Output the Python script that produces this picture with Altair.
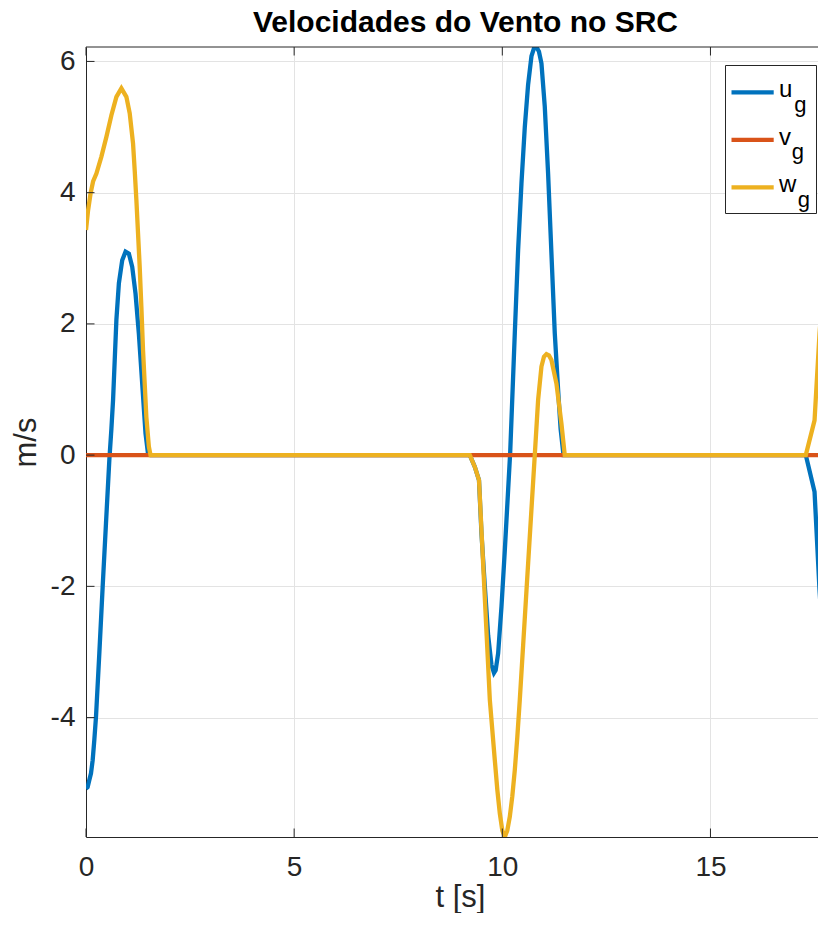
import altair as alt
import pandas as pd

# ---- data ----
t_u = [0, 0.04, 0.08, 0.12, 0.16, 0.20, 0.24, 0.32, 0.40, 0.48, 0.56, 0.61, 0.65, 0.69,
       0.73, 0.79, 0.87, 0.95, 1.03, 1.11, 1.19, 1.27, 1.35, 1.43, 1.49, 1.55,
       9.22, 9.34, 9.44, 9.50, 9.58, 9.66, 9.74, 9.80, 9.84, 9.90, 9.98, 10.06, 10.14,
       10.19, 10.30, 10.38, 10.46, 10.54, 10.62, 10.70, 10.76, 10.82, 10.88, 10.94,
       11.02, 11.10, 11.18, 11.26, 11.34, 11.40, 11.47,
       17.29, 17.50, 17.62, 17.78]
u_g = [-5.08, -5.06, -4.95, -4.85, -4.65, -4.34, -3.99, -3.02, -2.01, -1.04, -0.08, 0.40,
       0.84, 1.45, 2.06, 2.62, 2.97, 3.10, 3.07, 2.87, 2.46, 1.85, 1.09, 0.33, 0.02, 0.0,
       0.0, -0.18, -0.38, -1.20, -2.00, -2.75, -3.20, -3.32, -3.28, -3.02, -2.31, -1.45,
       -0.53, 0.05, 1.86, 3.13, 4.14, 5.00, 5.65, 6.08, 6.20, 6.22, 6.15, 5.97,
       5.31, 4.29, 3.07, 1.86, 1.00, 0.40, 0.0,
       0.0, -0.56, -2.06, -3.62]

t_v = [0, 17.78]
v_g = [0.0, 0.0]

t_w = [0, 0.05, 0.11, 0.17, 0.25, 0.37, 0.49, 0.61, 0.73, 0.85, 0.97, 1.05, 1.13, 1.17,
       1.21, 1.25, 1.29, 1.33, 1.37, 1.41, 1.45, 1.51, 1.55,
       9.22, 9.34, 9.44, 9.50, 9.58, 9.70, 9.82, 9.88, 9.94, 10.00, 10.06, 10.12, 10.18,
       10.24, 10.30, 10.36, 10.42, 10.50, 10.58, 10.66, 10.74, 10.78, 10.86, 10.94,
       11.00, 11.06, 11.12, 11.18, 11.30, 11.42, 11.50,
       17.29, 17.50, 17.62, 17.78]
w_g = [3.43, 3.73, 3.99, 4.17, 4.29, 4.55, 4.85, 5.18, 5.46, 5.59, 5.46, 5.21, 4.75, 4.34,
       3.89, 3.38, 2.87, 2.26, 1.60, 1.09, 0.58, 0.13, 0.0,
       0.0, -0.18, -0.38, -1.15, -2.18, -3.73, -4.65, -5.10, -5.46, -5.72, -5.82, -5.72,
       -5.51, -5.20, -4.80, -4.30, -3.73, -2.90, -2.07, -1.24, -0.41, 0.0, 0.84, 1.35,
       1.50, 1.54, 1.52, 1.45, 1.09, 0.48, 0.0,
       0.0, 0.53, 1.86, 3.10]

series_main = ["u", "v", "w"]
series_sub = ["g", "g", "g"]
colors = ["#0072BD", "#D95319", "#EDB120"]
x_ticks = [0, 5, 10, 15]
y_ticks = [-4, -2, 0, 2, 4, 6]
x_domain = [0, 17.583]
y_domain = [-5.82, 6.22]
title_text = "Velocidades do Vento no SRC"

W, H = 732, 790
FONT = "Liberation Sans"
INK = "#262626"
GRID = "#e3e3e3"

xscale = alt.Scale(domain=x_domain, nice=False, zero=False)
yscale = alt.Scale(domain=y_domain, nice=False, zero=False)

x_axis = alt.Axis(values=x_ticks, labelExpr="'' + datum.value", title="t [s]",
                  labelFont=FONT, labelFontSize=28,
                  labelColor=INK, labelPadding=16, tickSize=0, domainColor=INK, domainWidth=1,
                  grid=True, gridColor=GRID, gridWidth=1, titleFont=FONT, titleFontSize=31,
                  titleFontWeight="normal", titleColor=INK, titleX=374, titleY=69,
                  titleAlign="center", titleBaseline="alphabetic", labelFlush=False)
y_axis = alt.Axis(values=y_ticks, labelExpr="'' + datum.value", title="m/s",
                  labelFont=FONT, labelFontSize=28,
                  labelColor=INK, labelPadding=11, labelBaseline="middle", tickSize=0,
                  domainColor=INK, domainWidth=1, grid=True, gridColor=GRID, gridWidth=1,
                  titleFont=FONT, titleFontSize=31, titleFontWeight="normal", titleColor=INK,
                  titleX=-51, titleY=395, titleAngle=270, titleAlign="center",
                  titleBaseline="alphabetic", labelFlush=False)

X = lambda: alt.X("t:Q", scale=xscale, axis=x_axis)
Y = lambda: alt.Y("val:Q", scale=yscale, axis=y_axis)

layers = []
for i, (tt, vv) in enumerate([(t_u, u_g), (t_v, v_g), (t_w, w_g)]):
    df = pd.DataFrame({"t": tt, "val": vv})
    layers.append(
        alt.Chart(df).mark_line(strokeWidth=4.3, clip=True, color=colors[i]).encode(
            x=X(), y=Y())
    )

one = pd.DataFrame({"a": [0]})

# box top line
top_line = alt.Chart(one).mark_rule(color=INK, strokeWidth=1).encode(
    x=alt.value(0), x2=alt.value(W), y=alt.value(0))

# inward ticks
yt = alt.Chart(pd.DataFrame({"val": y_ticks})).mark_rule(color=INK, strokeWidth=1).encode(
    y=Y(), x=alt.value(0), x2=alt.value(8.5))
xt_bottom = alt.Chart(pd.DataFrame({"t": x_ticks})).mark_rule(color=INK, strokeWidth=1).encode(
    x=X(), y=alt.value(H), y2=alt.value(H - 8.5))
xt_top = alt.Chart(pd.DataFrame({"t": x_ticks})).mark_rule(color=INK, strokeWidth=1).encode(
    x=X(), y=alt.value(0), y2=alt.value(8.5))

# chart title as text
title_mark = alt.Chart(one).mark_text(
    text=title_text, font=FONT, fontSize=30, fontWeight="bold", color="black",
    align="center", baseline="alphabetic").encode(x=alt.value(379.5), y=alt.value(-15.3))

# legend (manual, for subscripts)
leg_layers = [
    alt.Chart(one).mark_rect(fill="white", stroke=INK, strokeWidth=1).encode(
        x=alt.value(639.5), x2=alt.value(730.5), y=alt.value(18.5), y2=alt.value(166.5))
]
row_y = [45.3, 92.8, 140.3]
sub_x = [708.3, 705.7, 711.7]
for i in range(3):
    ly = row_y[i]
    leg_layers.append(alt.Chart(one).mark_rule(color=colors[i], strokeWidth=4.3).encode(
        x=alt.value(645.5), x2=alt.value(687.7), y=alt.value(ly)))
    leg_layers.append(alt.Chart(one).mark_text(
        text=series_main[i], font=FONT, fontSize=24, color="black", align="left",
        baseline="alphabetic").encode(x=alt.value(693), y=alt.value(ly + 5)))
    leg_layers.append(alt.Chart(one).mark_text(
        text=series_sub[i], font=FONT, fontSize=22, color="black", align="left",
        baseline="alphabetic").encode(x=alt.value(sub_x[i]), y=alt.value(ly + 19.5)))

chart = alt.layer(*layers, top_line, yt, xt_bottom, xt_top, title_mark, *leg_layers).properties(
    width=W, height=H,
    padding={"left": 78, "top": 39, "right": 0, "bottom": 76},
    autosize=alt.AutoSizeParams(type="none"),
    background="white",
).configure_view(strokeWidth=0)

chart.save("out.html", embed_options={"renderer": "svg", "actions": False})
